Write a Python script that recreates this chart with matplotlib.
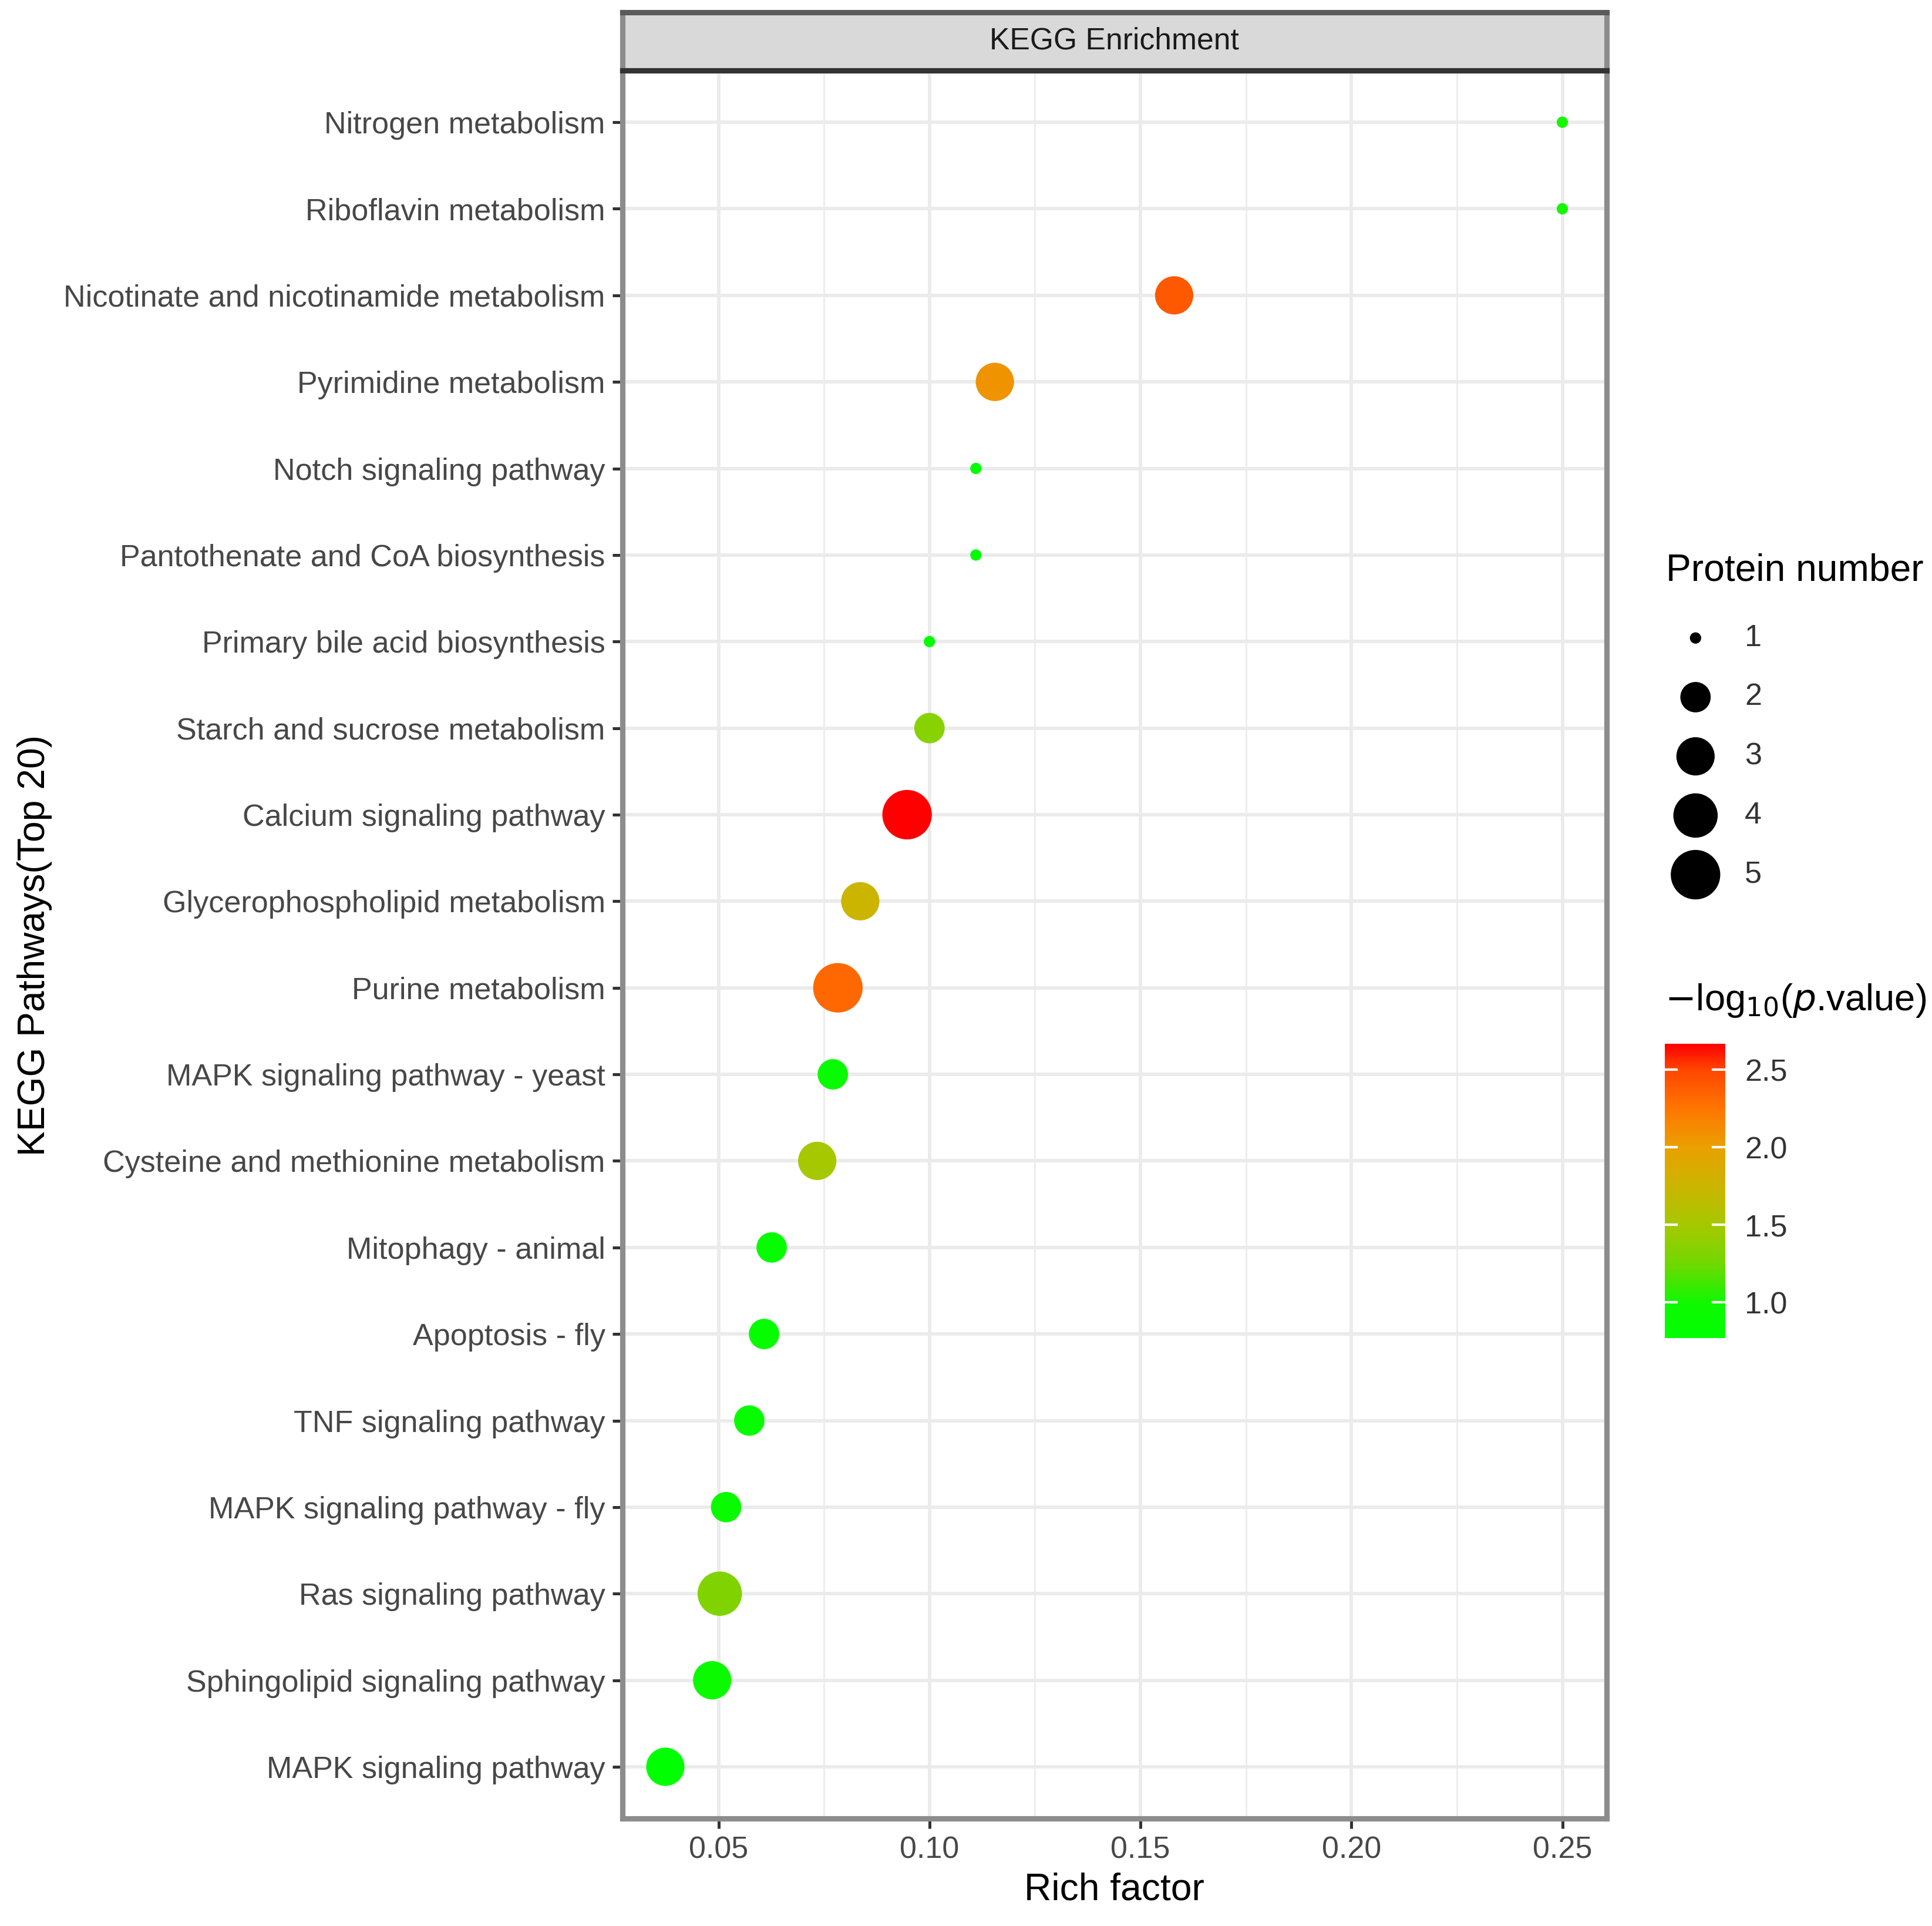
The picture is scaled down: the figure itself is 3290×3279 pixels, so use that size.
import numpy as np
import matplotlib
matplotlib.use("Agg")
import matplotlib.pyplot as plt
from matplotlib.colors import LinearSegmentedColormap, Normalize
from matplotlib.ticker import MultipleLocator

plt.rcParams["font.family"] = ["Liberation Sans", "DejaVu Sans"]

# data, top row first
pathways = [
    "Nitrogen metabolism",
    "Riboflavin metabolism",
    "Nicotinate and nicotinamide metabolism",
    "Pyrimidine metabolism",
    "Notch signaling pathway",
    "Pantothenate and CoA biosynthesis",
    "Primary bile acid biosynthesis",
    "Starch and sucrose metabolism",
    "Calcium signaling pathway",
    "Glycerophospholipid metabolism",
    "Purine metabolism",
    "MAPK signaling pathway - yeast",
    "Cysteine and methionine metabolism",
    "Mitophagy - animal",
    "Apoptosis - fly",
    "TNF signaling pathway",
    "MAPK signaling pathway - fly",
    "Ras signaling pathway",
    "Sphingolipid signaling pathway",
    "MAPK signaling pathway",
]
rich_factor = [0.250, 0.250, 0.158, 0.1155, 0.111, 0.111, 0.100, 0.100, 0.0947, 0.0836,
               0.0783, 0.0771, 0.0734, 0.0626, 0.0608, 0.0573, 0.0518, 0.0503, 0.0485, 0.0374]
protein_number = [1, 1, 3, 3, 1, 1, 1, 2, 5, 3, 5, 2, 3, 2, 2, 2, 2, 4, 3, 3]
neg_log10_p = [1.02, 1.02, 2.40, 2.08, 0.85, 0.85, 0.85, 1.35, 2.667, 1.75,
               2.32, 0.90, 1.50, 0.85, 0.85, 0.88, 0.92, 1.32, 0.95, 0.77]

size_legend_values = [1, 2, 3, 4, 5]
color_ticks = [1.0, 1.5, 2.0, 2.5]
x_ticks = [0.05, 0.10, 0.15, 0.20, 0.25]

# green -> red gradient, colours picked off the reference colour bar
grad_values = [0.77, 1.0, 1.1, 1.25, 1.5, 1.75, 2.0, 2.25, 2.5, 2.667]
grad_colors = ["#00ff00", "#10f800", "#38ea00", "#72d800", "#a6c800",
               "#cbb500", "#e9a000", "#ff7600", "#ff4600", "#ff0000"]
vmin, vmax = min(neg_log10_p), max(neg_log10_p)
cmap = LinearSegmentedColormap.from_list(
    "kegg", [((v - vmin) / (vmax - vmin), c) for v, c in zip(grad_values, grad_colors)])
norm = Normalize(vmin=vmin, vmax=vmax)


def point_area(n):
    # ggplot scale_size area palette, range 1..6 (plus stroke)
    lo, hi = min(protein_number), max(protein_number)
    size = 1 + 5 * np.sqrt((np.asarray(n, float) - lo) / (hi - lo))
    return (size * 3.12 + 1.5) ** 2


fig = plt.figure(figsize=(3290 / 300, 3279 / 300), dpi=300)
ax = fig.add_axes([0.3221, 0.0557, 0.5095, 0.9078])
strip = fig.add_axes([0.3221, 0.9635, 0.5095, 0.0301])

ypos = np.arange(len(pathways))[::-1]
ax.scatter(rich_factor, ypos, s=point_area(protein_number), c=neg_log10_p,
           cmap=cmap, norm=norm, edgecolors="none", zorder=3)

ax.set_xlim(0.0272, 0.2605)
ax.set_ylim(-0.6, len(pathways) - 0.4)
ax.set_yticks(ypos)
ax.set_yticklabels(pathways)
ax.set_xticks(x_ticks)
ax.set_xticklabels(["%.2f" % v for v in x_ticks])
ax.xaxis.set_minor_locator(MultipleLocator(0.025))
ax.grid(True, which="major", color="#ebebeb", lw=1.4, zorder=0)
ax.grid(True, which="minor", axis="x", color="#ededed", lw=0.7, zorder=0)
ax.set_axisbelow(True)
ax.tick_params(axis="both", which="major", length=4, width=1.2, color="#333333",
               labelsize=12.5, labelcolor="#474747", pad=3)
ax.tick_params(axis="both", which="minor", length=0)
for sp in ax.spines.values():
    sp.set_color("#8c8c8c")
    sp.set_linewidth(2.2)
ax.set_xlabel("Rich factor", fontsize=15.4, labelpad=3)
fig.text(0.018, 0.509, "KEGG Pathways(Top 20)", rotation=90, fontsize=15.4,
         ha="center", va="center")

strip.set_facecolor("#d9d9d9")
strip.set_xticks([])
strip.set_yticks([])
for sp in strip.spines.values():
    sp.set_color("#8c8c8c")
    sp.set_linewidth(2.2)
strip.spines["bottom"].set_color("#333333")
strip.spines["top"].set_color("#5a5a5a")
strip.text(0.5, 0.5, "KEGG Enrichment", ha="center", va="center", fontsize=12.4,
           color="#1a1a1a", transform=strip.transAxes)

# size legend
fig.text(0.8622, 0.7038, "Protein number", fontsize=15.4, ha="left", va="center")
lg = fig.add_axes([0.862, 0.5305, 0.06, 0.1536])
lg.set_xlim(0, 1)
lg.set_ylim(len(size_legend_values) - 0.5, -0.5)
lg.axis("off")
lg.scatter([0.26] * len(size_legend_values), range(len(size_legend_values)),
           s=point_area(size_legend_values), c="black", edgecolors="none")
for i, v in enumerate(size_legend_values):
    lg.text(0.685, i, str(v), fontsize=12.5, color="#333333", ha="left", va="center")

# colour bar
fig.text(0.8616, 0.4805, r"$-$log$_{10}$($\it{p}$.value)", fontsize=15.2, ha="left", va="center")
cax = fig.add_axes([0.8616, 0.3052, 0.0313, 0.1529])
sm = plt.cm.ScalarMappable(cmap=cmap, norm=norm)
cb = fig.colorbar(sm, cax=cax, ticks=color_ticks)
cb.outline.set_visible(False)
cb.ax.tick_params(length=0, labelsize=12.5, labelcolor="#333333", pad=8)
cb.ax.set_yticklabels(["%.1f" % v for v in color_ticks])
for t in color_ticks:
    cax.axhline(t, xmin=0, xmax=0.2, color="white", lw=1)
    cax.axhline(t, xmin=0.8, xmax=1, color="white", lw=1)

fig.savefig("out.png", dpi=300, facecolor="white")
